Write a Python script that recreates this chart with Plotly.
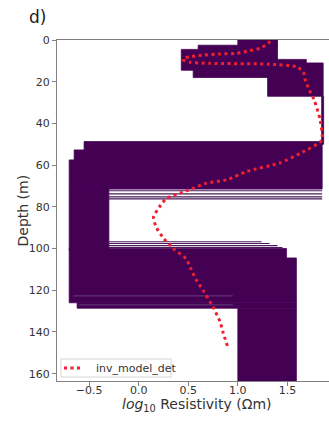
import plotly.graph_objects as go

# Ensemble envelope of the inverted models: (depth_top, depth_bottom, res_min, res_max) in log10 Ohm-m
band_top = [0.0, 2.5, 4.5, 14.5, 9.3, 11.0, 27.0, 48.7, 52.7, 57.5, 71.5, 100.0, 104.5, 126.0, 128.6]
band_bot = [3.0, 4.5, 14.5, 18.0, 11.0, 27.0, 50.0, 52.7, 57.5, 71.5, 101.0, 104.5, 126.0, 128.6, 170.0]
band_min = [1.00, 0.60, 0.43, 0.55, 1.30, 1.30, 1.845, -0.55, -0.65, -0.70, -0.70, -0.70, -0.70, -0.62, 1.00]
band_max = [1.40, 1.40, 1.40, 1.40, 1.69, 1.86, 1.865, 1.85, 1.85, 1.85, -0.30, 1.49, 1.59, 1.59, 1.59]

# Individual model interface lines seen at the edges of the ensemble
line_depth = [72.3, 73.8, 75.2, 76.2, 96.7, 97.6, 98.6, 99.5]
line_min = [-0.30, -0.30, -0.30, -0.30, -0.30, -0.30, -0.30, -0.30]
line_max = [1.85, 1.85, 1.85, 1.85, 1.24, 1.32, 1.40, 1.45]

# Faint lighter model edges inside the deep conductive layer
faint_depth = [122.7, 127.0]
faint_min = [-0.66, -0.60]
faint_max = [0.95, 0.95]

# Deterministic inversion model
det_depth = [0.5, 1.6, 4.0, 5.1, 6.4, 6.7, 7.2, 8.0, 8.8, 9.6, 10.7, 11.2, 11.6, 12.8, 15.2,
             19.2, 24.0, 28.8, 38.4, 48.0, 54.3, 59.0, 63.0, 67.0, 68.7, 72.0, 76.0, 80.0,
             85.0, 90.0, 95.0, 100.0, 105.0, 110.0, 115.0, 120.0, 128.0, 135.0, 140.0, 147.5]
det_res = [1.32, 1.31, 1.22, 1.12, 0.99, 0.82, 0.65, 0.52, 0.45, 0.45, 0.52, 0.72, 1.32, 1.59, 1.66,
           1.68, 1.72, 1.77, 1.83, 1.845, 1.63, 1.42, 1.09, 0.89, 0.68, 0.50, 0.28, 0.21,
           0.15, 0.18, 0.25, 0.35, 0.48, 0.53, 0.58, 0.65, 0.75, 0.82, 0.85, 0.90]
det_name = "inv_model_det"

x_ticks = [-0.5, 0.0, 0.5, 1.0, 1.5]
x_ticktext = ["\u22120.5", "0.0", "0.5", "1.0", "1.5"]
y_ticks = [0, 20, 40, 60, 80, 100, 120, 140, 160]

PURPLE = "#440154"
RED = "#ee2030"
fig = go.Figure()

for d0, d1, r0, r1 in zip(band_top, band_bot, band_min, band_max):
    fig.add_trace(go.Scatter(
        x=[r0, r1, r1, r0, r0], y=[d0, d0, d1, d1, d0],
        mode="lines", fill="toself", fillcolor=PURPLE,
        line=dict(color=PURPLE, width=0.8), showlegend=False, hoverinfo="skip"))

for d, r0, r1 in zip(line_depth, line_min, line_max):
    fig.add_trace(go.Scatter(
        x=[r0, r1], y=[d, d], mode="lines",
        line=dict(color="#4a1a5c", width=1.1), showlegend=False, hoverinfo="skip"))

for d, r0, r1 in zip(faint_depth, faint_min, faint_max):
    fig.add_trace(go.Scatter(
        x=[r0, r1], y=[d, d], mode="lines",
        line=dict(color="#6e4f88", width=0.8), showlegend=False, hoverinfo="skip"))

fig.add_trace(go.Scatter(
    x=det_res, y=det_depth, mode="lines", name=det_name, showlegend=False,
    line=dict(color=RED, width=3, dash="3px,3.5px", shape="spline", smoothing=0.6)))

# Legend box (matplotlib style), built in paper coordinates
L, T, B, H = 57, 40, 381, 341
W = 272
def px(xp):
    return (xp - L) / W
def py(yp):
    return (B - yp) / H

shapes = [
    dict(type="rect", xref="paper", yref="paper", x0=px(61), x1=px(171), y0=py(377), y1=py(359),
         fillcolor="white", line=dict(color="#d6d6d6", width=1), layer="above"),
    dict(type="line", xref="paper", yref="paper", x0=px(64), x1=px(82), y0=py(368), y1=py(368),
         line=dict(color=RED, width=3, dash="3px,3.5px"), layer="above"),
]

font_family = "DejaVu Sans"
fig.update_layout(
    width=329, height=422,
    margin=dict(l=57, r=0, t=40, b=41),
    paper_bgcolor="white", plot_bgcolor="white",
    font=dict(family=font_family, color="#333333", size=11),
    showlegend=False,
    shapes=shapes,
    xaxis=dict(range=[-0.823, 1.919], tickvals=x_ticks, ticktext=x_ticktext,
               showgrid=False, zeroline=False, showline=True, linecolor="#808080",
               linewidth=1, mirror=True, ticks="outside", ticklen=4, tickcolor="#808080",
               ticklabelstandoff=-5,
               tickfont=dict(size=11, color="#333333")),
    yaxis=dict(range=[163.5, 0], tickvals=y_ticks,
               showgrid=False, zeroline=False, showline=True, linecolor="#808080",
               linewidth=1, ticks="outside", ticklen=4, tickcolor="#808080",
               tickfont=dict(size=11, color="#333333")),
    annotations=[
        dict(text=det_name, xref="paper", yref="paper", x=px(94), y=py(368),
             xanchor="left", yanchor="middle", showarrow=False,
             font=dict(size=11, color="#333333")),
        dict(text="<i>log</i><sub>10</sub> Resistivity (\u03a9m)", xref="paper", yref="paper",
             x=px(197), y=py(404.5), xanchor="center", yanchor="middle", showarrow=False,
             font=dict(size=14, color="#333333")),
        dict(text="Depth (m)", xref="paper", yref="paper", textangle=-90,
             x=px(22), y=0.5, xanchor="center", yanchor="middle", showarrow=False,
             font=dict(size=14, color="#333333")),
        dict(text="d)", xref="paper", yref="paper", x=px(27), y=py(17),
             xanchor="left", yanchor="middle", showarrow=False,
             font=dict(size=17, color="#222222")),
    ],
)

fig.write_html("out.html")
